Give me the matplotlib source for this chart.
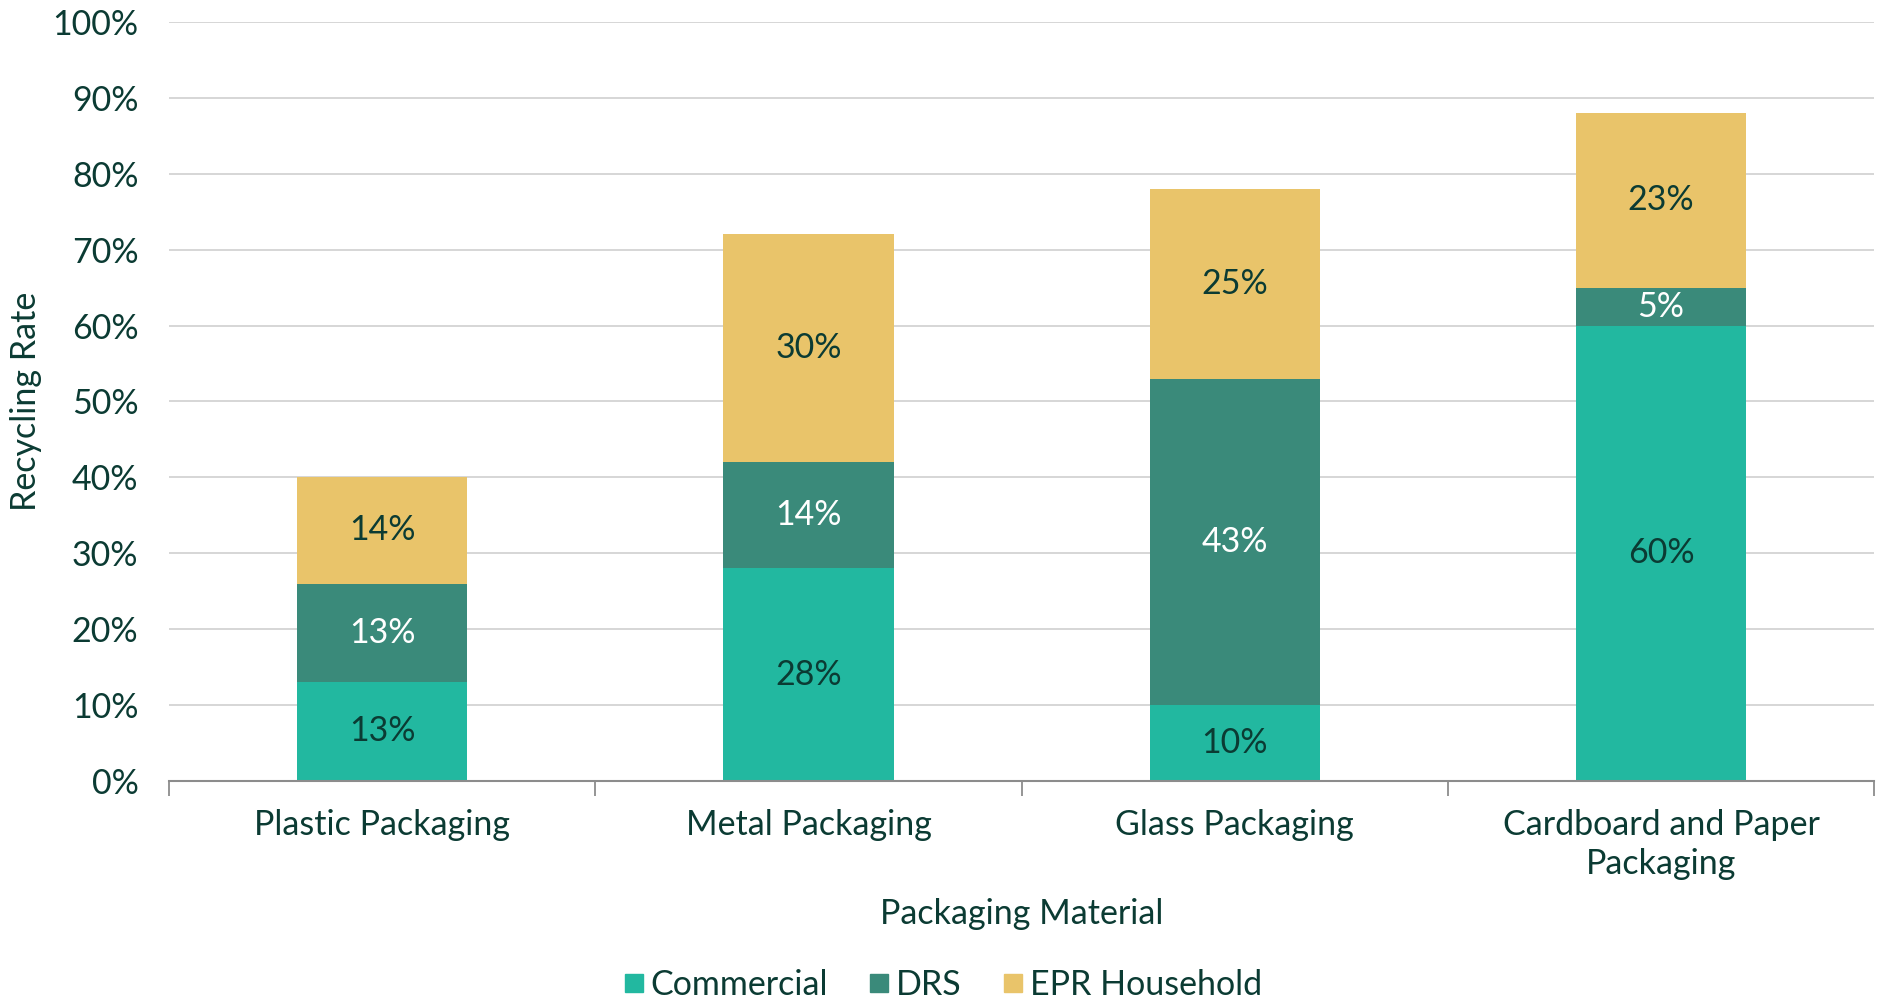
import matplotlib
matplotlib.use("Agg")
import matplotlib.pyplot as plt
from matplotlib.lines import Line2D
import numpy as np

categories = ["Plastic Packaging", "Metal Packaging", "Glass Packaging", "Cardboard and Paper\nPackaging"]
series_names = ["Commercial", "DRS", "EPR Household"]
commercial = [13, 28, 10, 60]
drs = [13, 14, 43, 5]
epr = [14, 30, 25, 23]
yticks = [0, 10, 20, 30, 40, 50, 60, 70, 80, 90, 100]

colors = ["#22B8A0", "#3A8A7A", "#E9C46A"]
label_colors = ["#0B3B33", "#FFFFFF", "#0B3B33"]
text_color = "#0B3B33"
FS = 24.5

plt.rcParams['font.family'] = ['Lato', 'DejaVu Sans']

fig = plt.figure(figsize=(18.78, 10.01), dpi=100)
ax = fig.add_axes([0.09, 0.22, 0.908, 0.758])

x = np.arange(len(categories))
bottom = np.zeros(len(categories))
width = 0.4
for vals, col, lc, name in zip([commercial, drs, epr], colors, label_colors, series_names):
    vals = np.array(vals, dtype=float)
    ax.bar(x, vals, width, bottom=bottom, color=col, label=name, zorder=3)
    for xi, v, b in zip(x, vals, bottom):
        ax.text(xi, b + v / 2, f"{int(v)}%", ha="center", va="center",
                fontsize=FS, color=lc, zorder=4)
    bottom += vals

ax.set_xlim(-0.5, len(categories) - 0.5)
ax.set_ylim(0, 100)
ax.set_yticks(yticks)
ax.set_yticklabels([f"{t}%" for t in yticks])
ax.yaxis.grid(True, color="#D3D3D3", linewidth=1.3, zorder=0)
ax.set_axisbelow(True)

for s in ["left", "right", "top"]:
    ax.spines[s].set_visible(False)
ax.spines["bottom"].set_color("#8C8C8C")
ax.spines["bottom"].set_linewidth(1.5)
ax.spines["bottom"].set_zorder(5)

ax.set_xticks(x)
ax.set_xticklabels(categories)
for lab in ax.get_xticklabels():
    lab.set_linespacing(1.3)
ax.tick_params(axis="x", which="major", length=0, pad=20, labelsize=FS, labelcolor=text_color)
ax.set_xticks(np.arange(-0.5, len(categories)), minor=True)
ax.tick_params(axis="x", which="minor", length=11, width=1.3, color="#8C8C8C", direction="out")
ax.tick_params(axis="y", length=0, pad=22, labelsize=FS, labelcolor=text_color)

ax.set_xlabel("Packaging Material", fontsize=FS, color=text_color, labelpad=13)
ax.set_ylabel("Recycling Rate", fontsize=FS, color=text_color)
ax.yaxis.set_label_coords(-0.0745, 0.5)

handles = [Line2D([0], [0], marker="s", linestyle="none", markersize=13.5,
                  markerfacecolor=c, markeredgecolor=c) for c in colors]
fig.legend(handles, series_names, loc="center", bbox_to_anchor=(0.502, 0.016),
           ncol=3, frameon=False, fontsize=FS, labelcolor=text_color,
           handletextpad=0.2, columnspacing=1.2, handlelength=0.6)

fig.savefig("out.png", dpi=100)
